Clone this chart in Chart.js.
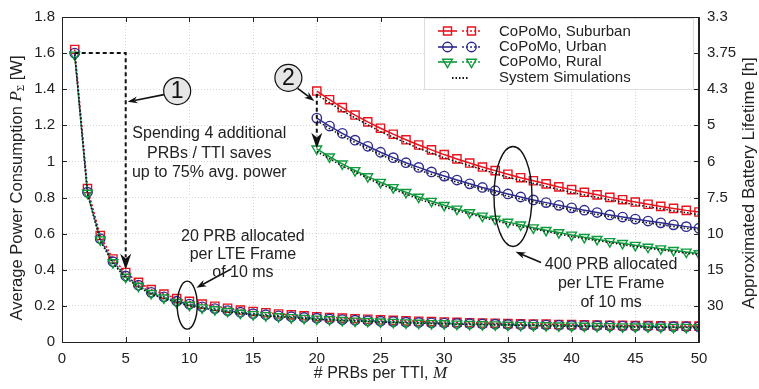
<!DOCTYPE html>
<html>
<head>
<meta charset="utf-8">
<script src="https://cdn.jsdelivr.net/npm/chart.js@4.4.0/dist/chart.umd.min.js"></script>
<style>
  html, body { margin: 0; padding: 0; background: #fff; }
</style>
</head>
<body>
<canvas id="chart" width="759" height="389"></canvas>
<script>
// x values (# PRBs per TTI)
const prbLow = [1,2,3,4,5,6,7,8,9,10,11,12,13,14,15,16,17,18,19,20,21,22,23,24,25,26,27,28,29,30,31,32,33,34,35,36,37,38,39,40,41,42,43,44,45,46,47,48,49,50];
const prbHigh = [20,21,22,23,24,25,26,27,28,29,30,31,32,33,34,35,36,37,38,39,40,41,42,43,44,45,46,47,48,49,50];

// 20 PRB per LTE frame (lower curves)
const suburbanLow = [1.62,0.85,0.59,0.46,0.385,0.33,0.29,0.265,0.24,0.225,0.21,0.198,0.187,0.177,0.169,0.162,0.155,0.15,0.145,0.14,0.136,0.132,0.129,0.126,0.123,0.12,0.117,0.115,0.113,0.111,0.109,0.107,0.105,0.104,0.102,0.101,0.1,0.099,0.097,0.096,0.095,0.094,0.093,0.092,0.091,0.091,0.09,0.089,0.088,0.088];
const urbanLow = [1.60,0.83,0.572,0.445,0.366,0.315,0.275,0.25,0.226,0.21,0.195,0.185,0.174,0.165,0.157,0.151,0.145,0.14,0.136,0.132,0.128,0.124,0.121,0.118,0.115,0.113,0.11,0.108,0.106,0.105,0.103,0.101,0.1,0.099,0.097,0.096,0.095,0.094,0.093,0.092,0.091,0.09,0.089,0.088,0.087,0.087,0.086,0.085,0.085,0.084];
const ruralLow = [1.59,0.825,0.567,0.44,0.36,0.31,0.27,0.245,0.22,0.205,0.19,0.18,0.17,0.16,0.153,0.147,0.141,0.136,0.132,0.128,0.124,0.12,0.117,0.115,0.112,0.11,0.107,0.105,0.103,0.102,0.1,0.098,0.097,0.096,0.094,0.093,0.092,0.091,0.09,0.089,0.088,0.087,0.086,0.085,0.084,0.084,0.083,0.082,0.082,0.081];

// 400 PRB per LTE frame (upper curves)
const suburbanHigh = [1.39,1.342,1.298,1.257,1.219,1.184,1.151,1.12,1.091,1.064,1.038,1.014,0.991,0.969,0.949,0.929,0.91,0.893,0.876,0.859,0.844,0.829,0.815,0.801,0.788,0.775,0.763,0.751,0.74,0.729,0.72];
const urbanHigh = [1.24,1.196,1.156,1.118,1.084,1.051,1.021,0.993,0.967,0.942,0.919,0.897,0.876,0.856,0.838,0.82,0.803,0.787,0.772,0.757,0.743,0.73,0.717,0.704,0.692,0.681,0.67,0.66,0.649,0.639,0.63];
const ruralHigh = [1.07,1.026,0.987,0.95,0.916,0.885,0.856,0.829,0.803,0.78,0.757,0.737,0.717,0.698,0.681,0.664,0.649,0.633,0.619,0.606,0.593,0.58,0.569,0.557,0.547,0.536,0.526,0.517,0.508,0.499,0.49];

// system simulations (black dotted)
const simLowX = [1,2,3,4,5,6,7,8,10,12,15,20,25,30,40,50];
const simLow = [1.59,0.82,0.56,0.435,0.355,0.305,0.265,0.24,0.2,0.175,0.15,0.125,0.11,0.1,0.087,0.079];
const simHighX = [20,22,25,28,30,35,40,45,50];
const simSuburban = [1.37,1.28,1.165,1.072,1.02,0.912,0.828,0.76,0.705];
const simUrban = [1.225,1.14,1.037,0.953,0.905,0.807,0.731,0.669,0.62];
const simRural = [1.055,0.975,0.873,0.792,0.746,0.654,0.584,0.528,0.483];

// tick labels
const xTicks = ['0','5','10','15','20','25','30','35','40','45','50'];
const powerTicks = ['0','0.2','0.4','0.6','0.8','1','1.2','1.4','1.6','1.8'];
const lifetimeTicks = ['','30','15','10','7.5','6','5','4.3','3.75','3.3'];

const RED = '#e8131d';
const BLUE = '#2c2a8c';
const GREEN = '#0f9a3b';
const TEXT = '#222';
const SANS = '"Liberation Sans", Arial, sans-serif';
const SERIF = '"Liberation Serif", serif';

function pts(xs, ys) {
    return xs.map((x, i) => ({ x: x, y: ys[i] }));
}

function series(xs, ys, color, shape, dashed, order) {
    return {
        data: pts(xs, ys),
        borderColor: color,
        borderWidth: dashed ? 1.6 : 1.5,
        borderDash: dashed ? [2, 2] : [],
        pointStyle: shape,
        pointRotation: shape === 'triangle' ? 180 : 0,
        pointRadius: shape === 'rect' ? 5.8 : (shape === 'triangle' ? 5.6 : 4.7),
        pointBorderColor: color,
        pointBackgroundColor: 'rgba(255,255,255,0)',
        pointBorderWidth: 1.4,
        fill: false,
        tension: 0,
        order: order
    };
}

function simSeries(xs, ys) {
    return {
        data: pts(xs, ys),
        borderColor: '#111',
        borderWidth: 1.5,
        borderDash: [1.5, 2],
        pointRadius: 0,
        fill: false,
        tension: 0,
        order: 0
    };
}

function drawRich(ctx, parts, cx, cy, rot) {
    ctx.save();
    ctx.translate(cx, cy);
    if (rot) ctx.rotate(rot);
    let total = 0;
    parts.forEach(p => { ctx.font = p.f; total += ctx.measureText(p.t).width; });
    let x = -total / 2;
    ctx.fillStyle = TEXT;
    ctx.textBaseline = 'middle';
    ctx.textAlign = 'left';
    parts.forEach(p => {
        ctx.font = p.f;
        ctx.fillText(p.t, x, p.dy || 0);
        x += ctx.measureText(p.t).width;
    });
    ctx.restore();
}

function arrowHead(ctx, x1, y1, x2, y2, len, w) {
    const a = Math.atan2(y2 - y1, x2 - x1);
    ctx.beginPath();
    ctx.moveTo(x2, y2);
    ctx.lineTo(x2 - len * Math.cos(a) + w / 2 * Math.sin(a), y2 - len * Math.sin(a) - w / 2 * Math.cos(a));
    ctx.lineTo(x2 - len * 0.7 * Math.cos(a), y2 - len * 0.7 * Math.sin(a));
    ctx.lineTo(x2 - len * Math.cos(a) - w / 2 * Math.sin(a), y2 - len * Math.sin(a) + w / 2 * Math.cos(a));
    ctx.closePath();
    ctx.fill();
}

function arrow(ctx, x1, y1, x2, y2, len, w) {
    const a = Math.atan2(y2 - y1, x2 - x1);
    ctx.beginPath();
    ctx.moveTo(x1, y1);
    ctx.lineTo(x2 - len * 0.7 * Math.cos(a), y2 - len * 0.7 * Math.sin(a));
    ctx.stroke();
    ctx.setLineDash([]);
    arrowHead(ctx, x1, y1, x2, y2, len, w);
}

function marker(ctx, shape, x, y, color) {
    ctx.save();
    ctx.strokeStyle = color;
    ctx.lineWidth = 1.4;
    ctx.setLineDash([]);
    ctx.beginPath();
    if (shape === 'rect') {
        ctx.rect(x - 4, y - 4, 8, 8);
    } else if (shape === 'circle') {
        ctx.arc(x, y, 4.7, 0, Math.PI * 2);
    } else {
        ctx.moveTo(x, y + 5.6);
        ctx.lineTo(x - 4.85, y - 2.8);
        ctx.lineTo(x + 4.85, y - 2.8);
        ctx.closePath();
    }
    ctx.stroke();
    ctx.restore();
}

const decorations = {
    id: 'decorations',
    afterDraw(chart) {
        const ctx = chart.ctx;
        const area = chart.chartArea;
        const sx = chart.scales.x, sy = chart.scales.y;
        const px = v => sx.getPixelForValue(v);
        const py = v => sy.getPixelForValue(v);

        // frame + inward ticks
        ctx.save();
        ctx.strokeStyle = '#222';
        ctx.lineWidth = 1;
        ctx.strokeRect(area.left + 0.5, area.top + 0.5, area.right - area.left - 1, area.bottom - area.top);
        ctx.beginPath();
        for (let i = 0; i < xTicks.length; i++) {
            const x = Math.round(px(i * 5)) + 0.5;
            ctx.moveTo(x, area.bottom); ctx.lineTo(x, area.bottom - 5);
            ctx.moveTo(x, area.top); ctx.lineTo(x, area.top + 5);
        }
        for (let i = 0; i < powerTicks.length; i++) {
            const y = Math.round(py(i * 0.2)) + 0.5;
            ctx.moveTo(area.left, y); ctx.lineTo(area.left + 5, y);
            ctx.moveTo(area.right, y); ctx.lineTo(area.right - 5, y);
        }
        ctx.stroke();
        ctx.restore();

        // axis titles
        drawRich(ctx, [
            { t: '# PRBs per TTI, ', f: '16px ' + SANS },
            { t: 'M', f: 'italic 17px ' + SERIF }
        ], (area.left + area.right) / 2, 374, 0);
        drawRich(ctx, [
            { t: 'Average Power Consumption ', f: '16.5px ' + SANS },
            { t: 'P', f: 'italic 17px ' + SERIF },
            { t: 'Σ', f: '11px ' + SERIF, dy: 4 },
            { t: ' [W]', f: '16.5px ' + SANS }
        ], 17, 188, -Math.PI / 2);
        drawRich(ctx, [
            { t: 'Approximated Battery Lifetime [h]', f: '17px ' + SANS }
        ], 749, 183, -Math.PI / 2);

        // annotations
        ctx.save();
        ctx.fillStyle = '#111';
        ctx.strokeStyle = '#111';

        // (1) dashed path with arrow
        ctx.lineWidth = 2;
        ctx.setLineDash([4, 3]);
        ctx.beginPath();
        ctx.moveTo(px(1), py(1.6));
        ctx.lineTo(px(5), py(1.6));
        ctx.lineTo(px(5), py(0.47));
        ctx.stroke();
        ctx.setLineDash([]);
        arrowHead(ctx, px(5), py(1), px(5), py(0.4), 16, 11);

        // (2) dashed drop with arrow
        ctx.setLineDash([4, 3]);
        ctx.beginPath();
        ctx.moveTo(px(20), py(1.375));
        ctx.lineTo(px(20), py(1.14));
        ctx.stroke();
        ctx.setLineDash([]);
        arrowHead(ctx, px(20), py(1.3), px(20), py(1.07), 16, 11);

        // numbered circles
        ctx.lineWidth = 1.2;
        [[9.04, 1.39, '1'], [17.77, 1.463, '2']].forEach(c => {
            ctx.beginPath();
            ctx.arc(px(c[0]), py(c[1]), 13.5, 0, Math.PI * 2);
            ctx.fillStyle = '#e6e6e6';
            ctx.fill();
            ctx.stroke();
            ctx.fillStyle = '#111';
            ctx.font = '23px ' + SANS;
            ctx.textAlign = 'center';
            ctx.textBaseline = 'middle';
            ctx.fillText(c[2], px(c[0]), py(c[1]) + 1);
        });

        ctx.lineWidth = 1.6;
        arrow(ctx, px(8.0), py(1.37), px(5.15), py(1.33), 10, 7);
        arrow(ctx, px(18.5), py(1.405), px(19.8), py(1.335), 10, 7);
        arrow(ctx, px(13.3), py(0.405), px(10.55), py(0.3), 10, 7);
        arrow(ctx, px(37.6), py(0.44), px(35.6), py(0.5), 10, 7);

        // ellipses
        ctx.lineWidth = 1.4;
        ctx.beginPath();
        ctx.ellipse(px(9.83), py(0.204), 10, 24, 0, 0, Math.PI * 2);
        ctx.stroke();
        ctx.beginPath();
        ctx.ellipse(px(35.4), py(0.806), 19, 50, 0, 0, Math.PI * 2);
        ctx.stroke();

        // texts
        ctx.fillStyle = TEXT;
        ctx.font = '16px ' + SANS;
        ctx.textAlign = 'center';
        ctx.textBaseline = 'middle';
        [['Spending 4 additional', 11.56, 1.154], ['PRBs / TTI saves', 11.56, 1.044], ['up to 75% avg. power', 11.56, 0.939],
         ['20 PRB allocated', 14.2, 0.585], ['per LTE Frame', 14.2, 0.486], ['of 10 ms', 14.2, 0.387],
         ['400 PRB allocated', 43.1, 0.431], ['per LTE Frame', 43.1, 0.326], ['of 10 ms', 43.1, 0.221]
        ].forEach(t => ctx.fillText(t[0], px(t[1]), py(t[2])));
        ctx.restore();

        // legend
        ctx.save();
        ctx.fillStyle = 'rgba(255,255,255,0.95)';
        ctx.fillRect(424, 18, 269, 71);
        ctx.strokeStyle = '#ddd';
        ctx.lineWidth = 1;
        ctx.strokeRect(424.5, 18.5, 269, 71);
        const rows = [
            ['CoPoMo, Suburban', RED, 'rect', 31],
            ['CoPoMo, Urban', BLUE, 'circle', 47],
            ['CoPoMo, Rural', GREEN, 'triangle', 62]
        ];
        rows.forEach(r => {
            ctx.strokeStyle = r[1];
            ctx.lineWidth = 1.6;
            ctx.setLineDash([]);
            ctx.beginPath(); ctx.moveTo(438, r[3]); ctx.lineTo(457, r[3]); ctx.stroke();
            marker(ctx, r[2], 447.5, r[3], r[1]);
            ctx.setLineDash([2, 2]);
            ctx.beginPath(); ctx.moveTo(462, r[3]); ctx.lineTo(481, r[3]); ctx.stroke();
            marker(ctx, r[2], 471.5, r[3], r[1]);
        });
        ctx.strokeStyle = '#111';
        ctx.setLineDash([1.5, 2]);
        ctx.lineWidth = 1.8;
        ctx.beginPath(); ctx.moveTo(452, 78); ctx.lineTo(468, 78); ctx.stroke();
        ctx.setLineDash([]);
        ctx.fillStyle = TEXT;
        ctx.font = '15px ' + SANS;
        ctx.textAlign = 'left';
        ctx.textBaseline = 'middle';
        ['CoPoMo, Suburban', 'CoPoMo, Urban', 'CoPoMo, Rural', 'System Simulations'].forEach((t, i) => {
            ctx.fillText(t, 499, [32, 47, 62, 78][i]);
        });
        ctx.restore();
    }
};

const gridStyle = { color: '#d4d4d4', lineWidth: 1, drawTicks: false };
const tickFont = { family: SANS, size: 15 };

new Chart(document.getElementById('chart').getContext('2d'), {
    type: 'line',
    data: {
        datasets: [
            simSeries(simLowX, simLow),
            simSeries(simHighX, simSuburban),
            simSeries(simHighX, simUrban),
            simSeries(simHighX, simRural),
            series(prbLow, ruralLow, GREEN, 'triangle', true, 1),
            series(prbLow, urbanLow, BLUE, 'circle', true, 2),
            series(prbLow, suburbanLow, RED, 'rect', true, 3),
            series(prbHigh, ruralHigh, GREEN, 'triangle', false, 1),
            series(prbHigh, urbanHigh, BLUE, 'circle', false, 2),
            series(prbHigh, suburbanHigh, RED, 'rect', false, 3)
        ]
    },
    options: {
        responsive: false,
        animation: false,
        layout: { padding: { top: 16, left: 0, right: 0, bottom: 0 } },
        plugins: { legend: { display: false }, tooltip: { enabled: false } },
        scales: {
            x: {
                type: 'linear',
                min: 0, max: 50,
                grid: gridStyle,
                border: { display: true, color: '#222', dash: [1, 2] },
                ticks: {
                    stepSize: 5, padding: 8, color: TEXT,
                    font: tickFont,
                    maxRotation: 0,
                    callback: (v) => xTicks[Math.round(v / 5)]
                },
                afterFit: (s) => { s.height = 47; }
            },
            y: {
                position: 'left',
                min: 0, max: 1.8,
                grid: gridStyle,
                border: { display: true, color: '#222', dash: [1, 2] },
                ticks: {
                    stepSize: 0.2, padding: 7, color: TEXT,
                    font: tickFont,
                    callback: (v) => powerTicks[Math.round(v / 0.2)]
                },
                afterFit: (s) => { s.width = 62; }
            },
            y2: {
                position: 'right',
                min: 0, max: 1.8,
                grid: { display: false, drawTicks: false },
                border: { display: true, color: '#222' },
                ticks: {
                    stepSize: 0.2, padding: 8, color: TEXT,
                    font: tickFont,
                    callback: (v) => lifetimeTicks[Math.round(v / 0.2)]
                },
                afterFit: (s) => { s.width = 60; }
            }
        }
    },
    plugins: [decorations]
});
</script>
</body>
</html>
